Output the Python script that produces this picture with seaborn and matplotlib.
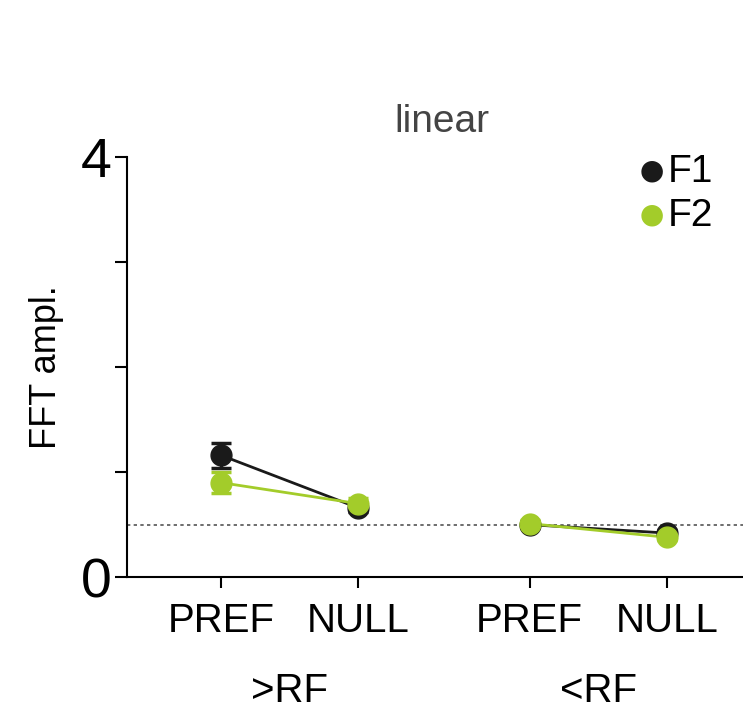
import numpy as np
import pandas as pd
import matplotlib
matplotlib.use("Agg")
import matplotlib.pyplot as plt
import seaborn as sns

groups = [">RF", ">RF", "<RF", "<RF"]
conditions = ["PREF", "NULL", "PREF", "NULL"]
x_pos = [0, 1, 2.25, 3.25]
f1_mean = [1.16, 0.66, 0.50, 0.42]
f1_err = [0.12, 0.04, 0.03, 0.03]
f2_mean = [0.90, 0.70, 0.51, 0.38]
f2_err = [0.10, 0.05, 0.03, 0.03]
baseline = 0.50

colors = {"F1": "#1a1a1a", "F2": "#a3cc2a"}

rows = []
for i in range(4):
    rows.append(dict(x=x_pos[i], group=groups[i], series="F1", mean=f1_mean[i], err=f1_err[i]))
    rows.append(dict(x=x_pos[i], group=groups[i], series="F2", mean=f2_mean[i], err=f2_err[i]))
df = pd.DataFrame(rows)

plt.rcParams["font.family"] = "Liberation Sans"
fig = plt.figure(figsize=(7.43, 7.17), dpi=100)
ax = fig.add_axes([0.171, 0.195, 0.829, 0.586])

for g in [">RF", "<RF"]:
    sub = df[df.group == g]
    sns.lineplot(data=sub, x="x", y="mean", hue="series", palette=colors,
                 ax=ax, legend=False, linewidth=2, zorder=2)
for s in ["F1", "F2"]:
    sub = df[df.series == s]
    ax.errorbar(sub.x, sub["mean"], yerr=sub.err, fmt="o", ms=15, color=colors[s],
                ecolor=colors[s], elinewidth=2.5, capsize=7, capthick=2.5, zorder=3)

ax.axhline(baseline, color="#555555", linestyle=(0, (2, 2)), linewidth=1.2, zorder=1)

ax.set_xlim(-0.686, 3.805)
ax.set_ylim(0, 4)
ax.set_yticks([0, 1, 2, 3, 4])
ax.set_yticklabels(["0", "", "", "", "4"], fontsize=40)
ax.tick_params(axis="y", length=9, width=1.5, pad=2)
ax.set_xticks(x_pos)
ax.set_xticklabels(conditions, fontsize=29)
ax.tick_params(axis="x", length=8, width=1.5, pad=10)
ax.set_xlabel("")
ax.set_ylabel("FFT ampl.", fontsize=26, labelpad=12)
for sp in ["top", "right"]:
    ax.spines[sp].set_visible(False)
for sp in ["left", "bottom"]:
    ax.spines[sp].set_linewidth(1.5)

ax.text(0.5, -0.27, ">RF", transform=ax.get_xaxis_transform(), ha="center", va="center", fontsize=29)
ax.text(2.75, -0.27, "<RF", transform=ax.get_xaxis_transform(), ha="center", va="center", fontsize=29)
fig.text(442 / 743, 1 - 122 / 717, "linear", ha="center", va="center", fontsize=28, color="#444444")

for lab, yy in [("F1", 172), ("F2", 216)]:
    fig.text(652 / 743, 1 - yy / 717, "\u25cf", color=colors[lab], fontsize=36, ha="center", va="center")
    fig.text(668 / 743, 1 - yy / 717, lab, fontsize=28, ha="left", va="center")

fig.savefig("out.png", dpi=100)
